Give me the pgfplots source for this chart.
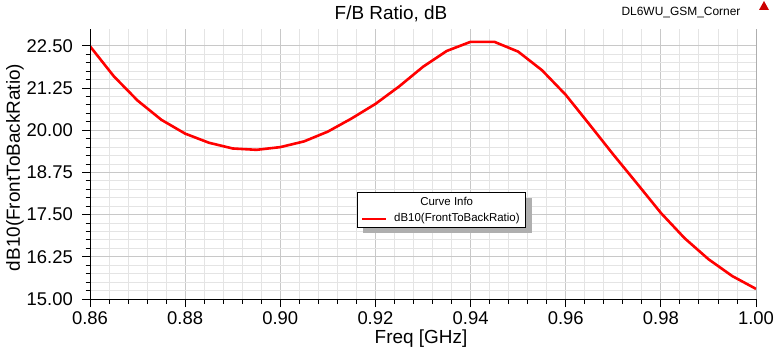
\documentclass[border=0pt]{standalone}
\usepackage{fontspec}
\setmainfont{Liberation Sans}
\usepackage{pgfplots}
\pgfplotsset{compat=1.18}
\definecolor{majgrid}{RGB}{200,200,200}
\definecolor{mingrid}{RGB}{228,228,228}
\definecolor{shadowgray}{RGB}{175,175,175}
\begin{document}
\begin{tikzpicture}[x=1bp,y=1bp]
\path[use as bounding box] (0,0) rectangle (781,350);
\begin{axis}[
  at={(90bp,51bp)}, anchor=south west,
  scale only axis, width=666bp, height=270bp,
  xmin=0.86, xmax=1.00, ymin=15, ymax=23,
  xtick={0.86,0.88,0.90,0.92,0.94,0.96,0.98,1.00},
  ytick={15,16.25,17.5,18.75,20,21.25,22.5},
  minor x tick num=4, minor y tick num=4,
  grid=both,
  major grid style={color=majgrid, line width=0.9bp},
  minor grid style={color=mingrid, line width=0.9bp},
  axis line style={draw=none},
  tick align=outside,
  xtick pos=bottom, ytick pos=left,
  major tick length=8bp, minor tick length=4.5bp,
  tick style={black, line width=0.9bp},
  /pgf/number format/assume math mode=true,
  xticklabel style={/pgf/number format/fixed, /pgf/number format/precision=2, /pgf/number format/fixed zerofill, inner sep=0pt, yshift=-4bp},
  yticklabel style={/pgf/number format/fixed, /pgf/number format/precision=2, /pgf/number format/fixed zerofill, inner sep=0pt, xshift=-9bp},
  ticklabel style={font=\fontsize{18.5}{20}\selectfont, text=black},
  clip=true,
]
\addplot[red, line width=2.6bp, line join=round] coordinates {
(0.860,22.49)
(0.865,21.60)
(0.870,20.88)
(0.875,20.31)
(0.880,19.90)
(0.885,19.63)
(0.890,19.46)
(0.895,19.42)
(0.900,19.50)
(0.905,19.67)
(0.910,19.96)
(0.915,20.35)
(0.920,20.78)
(0.925,21.30)
(0.930,21.88)
(0.935,22.35)
(0.940,22.62)
(0.945,22.62)
(0.950,22.33)
(0.955,21.78)
(0.960,21.05)
(0.965,20.17)
(0.970,19.28)
(0.975,18.42)
(0.980,17.55)
(0.985,16.80)
(0.990,16.18)
(0.995,15.68)
(1.000,15.30)
};
\draw[black, line width=1bp] (rel axis cs:0,1) -- (rel axis cs:0,0) -- (rel axis cs:1,0) -- (rel axis cs:1,1);
\end{axis}
% titles
\node[font=\fontsize{19}{21}\selectfont] at (391,336) {F/B Ratio, dB};
\node[font=\fontsize{12}{14}\selectfont] at (681,337) {DL6WU\_GSM\_Corner};
\fill[red!80!black] (759,340) -- (764,349) -- (769,340) -- cycle;
\node[font=\fontsize{19}{21}\selectfont] at (421,11) {Freq [GHz]};
\node[font=\fontsize{19}{21}\selectfont, rotate=90] at (15,182.5) {dB10(FrontToBackRatio)};
% legend box
\fill[shadowgray] (363.3,116.7) rectangle (531.7,151.7);
\filldraw[fill=white, draw=black, line width=1bp] (357.3,122.7) rectangle (525.7,157.7);
\node[font=\fontsize{11.5}{13}\selectfont] at (446.7,148.7) {Curve Info};
\draw[red, line width=2.6bp] (362,131) -- (385.7,131);
\node[font=\fontsize{11.5}{13}\selectfont, anchor=west, inner sep=0pt] at (394,131) {dB10(FrontToBackRatio)};
\end{tikzpicture}
\end{document}
